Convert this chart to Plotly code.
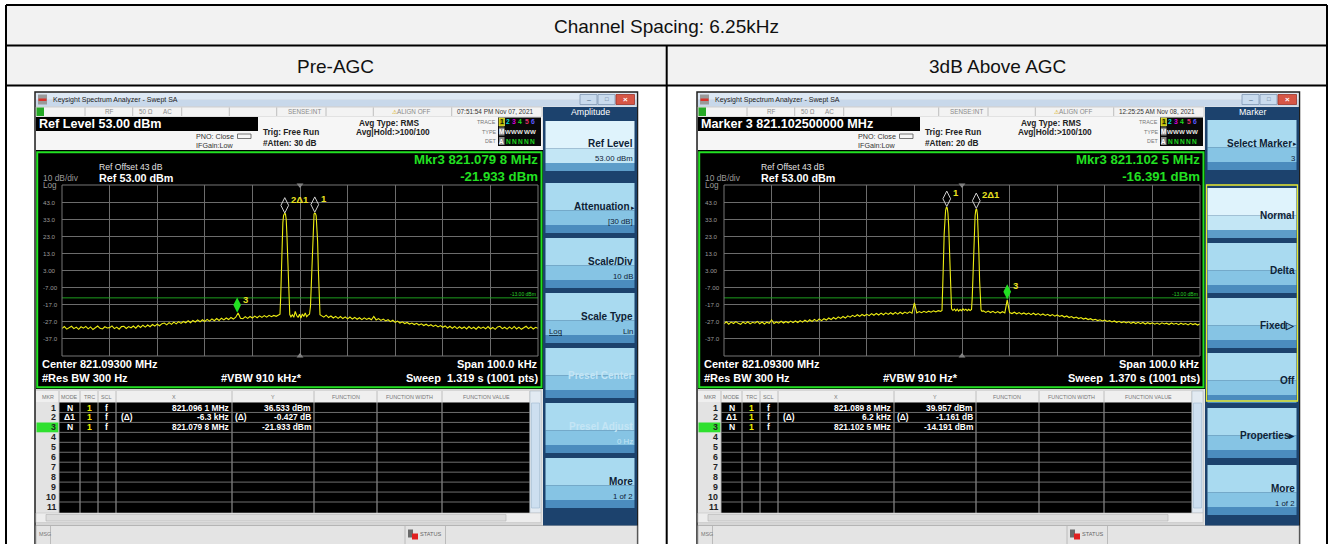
import numpy as np
import plotly.graph_objects as go

W, H = 1332, 544
FONT = "Liberation Sans, Arial, sans-serif"

# ------------------------------------------------------------------ data
TABLE_TITLE = "Channel Spacing: 6.25kHz"
COLUMN_TITLES = ["Pre-AGC", "3dB Above AGC"]

CENTER_MHZ = 821.093
SPAN_KHZ = 100.0
REF_LEVEL_DBM = 53.0
DB_PER_DIV = 10.0
DISPLAY_LINE_DBM = -13.0
Y_TICK_VALUES = [43, 33, 23, 13, 3, -7, -17, -27, -37]
Y_TICK_LABELS = ["43.0", "33.0", "23.0", "13.0", "3.00", "-7.00", "-17.0", "-27.0", "-37.0"]

# sweep grid outside the carriers (kHz from centre)
SWEEP_LO_KHZ = np.arange(-50.0, -4.49, 0.5)
SWEEP_HI_KHZ = np.arange(4.5, 50.01, 0.5)

# ---- Pre-AGC trace (dBm)
PRE_LO_DBM = [-30.9, -29.8, -31.3, -30.2, -29.6, -31.0, -30.1, -31.4, -29.9, -30.7,
              -29.7, -31.1, -30.0, -31.5, -30.3, -29.5, -30.8, -31.2, -29.9, -30.6,
              -30.4, -29.4, -31.0, -30.1, -31.3, -29.8, -29.6, -30.9, -29.8, -30.5,
              -29.5, -30.7, -29.2, -30.3, -29.0, -30.1, -28.9, -29.9, -28.6, -29.5,
              -28.4, -29.3, -28.1, -27.7, -28.8, -27.5, -28.5, -27.2, -28.2, -26.9,
              -27.9, -26.8, -27.6, -26.4, -27.5, -26.2, -27.1, -25.9, -27.0, -25.8,
              -26.8, -25.6, -26.6, -25.3, -26.4, -25.1, -26.2, -24.9, -25.9, -24.8,
              -25.7, -24.5, -25.4, -24.3, -21.9, -24.9, -25.2, -24.0, -25.0, -23.9,
              -24.8, -23.7, -24.6, -23.5, -24.4, -23.4, -24.3, -23.2, -24.0, -23.3,
              -23.8, -23.0]
PRE_PEAK_KHZ = [-4.2, -4.05, -3.9, -3.75, -3.6, -3.45, -3.3, -3.2, -3.05, -2.9,
                -2.75, -2.6, -2.45, -2.3, -2.15, -1.9, -1.6, -1.3, -1.0, -0.7,
                -0.4, -0.1, 0.2, 0.5, 0.8, 1.1, 1.4, 1.7, 2.0, 2.2,
                2.35, 2.5, 2.65, 2.8, 2.95, 3.1, 3.25, 3.4, 3.55, 3.7,
                3.85, 4.0, 4.2]
PRE_PEAK_DBM = [-22.6, -12.0, 4.0, 21.0, 31.0, 35.2, 36.4, 36.5, 36.0, 33.0,
                24.0, 9.0, -7.0, -18.5, -22.8, -24.1, -22.9, -24.4, -20.9, -23.3,
                -24.5, -22.6, -24.8, -22.4, -23.9, -21.8, -24.0, -23.1, -22.6, -18.0,
                -6.0, 9.0, 24.0, 33.0, 36.0, 36.5, 36.3, 35.0, 30.0, 20.0,
                4.0, -12.0, -22.8]
PRE_HI_DBM = [-23.4, -24.3, -23.1, -24.5, -23.6, -24.8, -23.8, -25.0, -23.9, -25.1,
              -24.1, -25.3, -24.2, -25.4, -24.4, -25.5, -24.6, -25.7, -24.7, -25.6,
              -24.9, -25.8, -23.9, -25.9, -25.1, -26.2, -25.4, -26.5, -25.8, -26.9,
              -26.1, -27.3, -26.6, -27.7, -27.0, -28.0, -27.4, -28.3, -27.7, -28.6,
              -27.9, -28.9, -28.2, -29.2, -28.4, -29.4, -28.7, -29.7, -28.9, -30.0,
              -29.2, -30.2, -29.4, -30.6, -29.6, -30.8, -29.7, -31.0, -29.9, -30.9,
              -30.0, -31.2, -29.8, -31.0, -30.2, -31.3, -29.9, -30.9, -30.1, -31.1,
              -29.8, -31.2, -30.3, -31.4, -30.0, -29.6, -31.0, -30.2, -31.3, -30.0,
              -31.1, -29.7, -31.2, -30.1, -31.4, -30.3, -29.6, -31.0, -30.0, -31.2,
              -30.2, -30.8]

# ---- 3dB above AGC trace (dBm)
AGC_LO_DBM = [-28.2, -27.0, -28.4, -27.2, -28.0, -26.9, -27.9, -28.5, -27.1, -28.1,
              -27.0, -28.2, -27.3, -27.8, -26.8, -28.1, -27.1, -28.3, -27.2, -27.9,
              -25.9, -28.0, -27.1, -27.8, -26.7, -27.7, -26.8, -27.6, -26.6, -27.5,
              -26.5, -27.4, -26.3, -27.2, -26.0, -27.0, -25.8, -26.8, -25.6, -26.6,
              -25.4, -26.3, -25.2, -26.0, -24.8, -25.7, -24.5, -25.4, -24.1, -25.0,
              -23.9, -24.8, -23.5, -24.3, -23.2, -24.0, -22.9, -23.8, -22.7, -23.5,
              -22.6, -23.4, -22.2, -23.2, -22.1, -23.0, -21.9, -22.9, -21.8, -22.7,
              -21.7, -22.6, -21.5, -22.5, -21.4, -22.3, -21.3, -22.1, -21.2, -22.0,
              -16.0, -21.8, -21.0, -21.7, -20.9, -21.5, -20.8, -21.4, -20.6, -21.2,
              -20.5, -20.9]
AGC_PEAK_KHZ = [-4.2, -4.05, -3.9, -3.75, -3.6, -3.45, -3.3, -3.2, -3.1, -2.95,
                -2.8, -2.65, -2.5, -2.35, -2.2, -1.9, -1.6, -1.3, -1.0, -0.7,
                -0.4, -0.1, 0.2, 0.5, 0.8, 1.1, 1.4, 1.7, 2.0, 2.15,
                2.3, 2.45, 2.6, 2.75, 2.9, 3.0, 3.1, 3.25, 3.4, 3.55,
                3.7, 3.85, 4.0, 4.2]
AGC_PEAK_DBM = [-20.3, -10.0, 8.0, 24.0, 33.0, 38.0, 39.8, 40.0, 39.6, 36.5,
                29.0, 16.0, 0.0, -13.0, -19.4, -20.4, -19.5, -20.6, -19.6, -20.8,
                -19.8, -20.5, -19.4, -20.3, -19.6, -20.5, -19.7, -20.4, -19.8, -13.0,
                1.0, 16.0, 28.0, 35.0, 38.4, 38.8, 38.6, 35.5, 27.0, 13.0,
                -3.0, -15.0, -20.0, -20.9]
AGC_HI_DBM = [-20.6, -21.5, -20.7, -21.6, -20.9, -21.8, -21.0, -21.9, -21.1, -21.8,
              -14.2, -21.6, -22.2, -21.4, -22.3, -21.6, -22.5, -21.8, -22.6, -21.9,
              -22.8, -22.0, -22.9, -22.2, -23.1, -22.4, -23.3, -22.6, -23.5, -22.8,
              -23.7, -23.0, -23.9, -23.3, -24.2, -23.6, -24.5, -23.9, -24.8, -24.2,
              -25.1, -24.5, -25.4, -24.9, -25.7, -25.2, -26.0, -25.5, -26.3, -25.8,
              -26.5, -26.0, -26.8, -26.3, -27.1, -26.5, -27.3, -26.7, -27.5, -26.9,
              -27.7, -27.0, -27.9, -27.2, -28.0, -27.3, -28.1, -27.4, -28.3, -27.5,
              -28.2, -27.6, -28.4, -27.7, -28.5, -27.6, -28.3, -27.8, -28.6, -27.7,
              -28.4, -27.9, -28.7, -27.8, -28.5, -28.0, -28.8, -27.9, -28.6, -28.1,
              -28.9, -28.2]

# ---- markers
MKR_LABELS = ["1", "2\u03941", "3"]
PRE_MKR_MHZ = [821.0961, 821.0898, 821.0798]
PRE_MKR_DBM = [36.533, 36.106, -21.933]
AGC_MKR_MHZ = [821.0898, 821.0960, 821.1025]
AGC_MKR_DBM = [39.957, 38.796, -14.191]

PRE_TABLE = [["1", "N", "1", "f", "", "821.096 1 MHz", "", "36.533 dBm"],
             ["2", "\u03941", "1", "f", "(\u0394)", "-6.3 kHz", "(\u0394)", "-0.427 dB"],
             ["3", "N", "1", "f", "", "821.079 8 MHz", "", "-21.933 dBm"]]
AGC_TABLE = [["1", "N", "1", "f", "", "821.089 8 MHz", "", "39.957 dBm"],
             ["2", "\u03941", "1", "f", "(\u0394)", "6.2 kHz", "(\u0394)", "-1.161 dB"],
             ["3", "N", "1", "f", "", "821.102 5 MHz", "", "-14.191 dBm"]]

SCREENS = [
    dict(dx=0, time="07:51:54 PM Nov 07, 2021", banner="Ref Level 53.00 dBm",
         atten="#Atten: 30 dB", mkr_line1="Mkr3 821.079 8 MHz", mkr_line2="-21.933 dBm",
         vbw="#VBW 910 kHz*", sweep="Sweep\u00a0\u00a01.319 s (1001 pts)",
         trig_mark_khz=-30.0, lo=PRE_LO_DBM, pk_khz=PRE_PEAK_KHZ, pk_dbm=PRE_PEAK_DBM, hi=PRE_HI_DBM,
         mkr_mhz=PRE_MKR_MHZ, mkr_dbm=PRE_MKR_DBM, table=PRE_TABLE,
         panel_title="Amplitude",
         buttons=[("Ref Level", "53.00 dBm", "sel", False),
                  ("Attenuation", "[30 dB]", "", True),
                  ("Scale/Div", "10 dB", "", False),
                  ("Scale Type", "Lin", "log", False),
                  ("Presel Center", None, "gray", False),
                  ("Presel Adjust", "0 Hz", "gray", False),
                  ("More", "1 of 2", "", False)],
         tops=[121, 183, 238, 293, 348, 403, 458], group=None),
    dict(dx=662, time="12:25:25 AM Nov 08, 2021", banner="Marker 3 821.102500000 MHz",
         atten="#Atten: 20 dB", mkr_line1="Mkr3 821.102 5 MHz", mkr_line2="-16.391 dBm",
         vbw="#VBW 910 Hz*", sweep="Sweep\u00a0\u00a01.370 s (1001 pts)",
         trig_mark_khz=-40.0, lo=AGC_LO_DBM, pk_khz=AGC_PEAK_KHZ, pk_dbm=AGC_PEAK_DBM, hi=AGC_HI_DBM,
         mkr_mhz=AGC_MKR_MHZ, mkr_dbm=AGC_MKR_DBM, table=AGC_TABLE,
         panel_title="Marker",
         buttons=[("Select Marker", "3", "", True),
                  ("Normal", None, "sel", False),
                  ("Delta", None, "", False),
                  ("Fixed\u25b7", None, "", False),
                  ("Off", None, "", False),
                  ("Properties\u25b8", None, "", False),
                  ("More", "1 of 2", "", False)],
         tops=[120, 188, 243, 298, 353, 408, 465], group=(185, 401)),
]

# ------------------------------------------------------------------ helpers
shapes, annotations = [], []


def rect(x0, y0, x1, y1, fill=None, line=None, lw=0, layer="below"):
    shapes.append(dict(type="rect", xref="paper", yref="paper",
                       x0=x0 / W, x1=x1 / W, y0=1 - y1 / H, y1=1 - y0 / H,
                       fillcolor=fill or "rgba(0,0,0,0)",
                       line=dict(color=line or "rgba(0,0,0,0)", width=lw), layer=layer))


def seg(x0, y0, x1, y1, color, lw=1, layer="below"):
    shapes.append(dict(type="line", xref="paper", yref="paper",
                       x0=x0 / W, x1=x1 / W, y0=1 - y0 / H, y1=1 - y1 / H,
                       line=dict(color=color, width=lw), layer=layer))


def text(x, y, s, size, color, bold=False, anchor="left", align="left"):
    annotations.append(dict(x=x / W, y=1 - y / H, xref="paper", yref="paper",
                            text=f"<b>{s}</b>" if bold else s, showarrow=False,
                            xanchor=anchor, yanchor="middle", borderpad=0, align=align,
                            font=dict(size=size, color=color, family=FONT)))


# ------------------------------------------------------------------ outer table
rect(6, 5, 1327, 45.5, fill="#f2f2f2")
rect(6, 45.5, 1327, 85.5, fill="#f2f2f2")
seg(6, 5, 1327, 5, "#000", 2)
seg(6, 45.5, 1327, 45.5, "#000", 2)
seg(6, 85.5, 1327, 85.5, "#000", 2)
seg(6, 5, 6, 545, "#000", 2)
seg(1327, 5, 1327, 545, "#000", 2)
seg(666.7, 45.5, 666.7, 545, "#000", 2)
text(666.5, 26, TABLE_TITLE, 19, "#111", anchor="center")
text(336, 66, COLUMN_TITLES[0], 19, "#111", anchor="center")
text(997, 66, COLUMN_TITLES[1], 19, "#111", anchor="center")

fig = go.Figure()
layout_axes = {}

TABLE_COLS = [59, 80, 98, 116, 232, 314, 377, 442, 530]
TABLE_HEAD = [("MKR", 47.5), ("MODE", 69.5), ("TRC", 89), ("SCL", 107), ("X", 174),
              ("Y", 273), ("FUNCTION", 345.5), ("FUNCTION WIDTH", 409.5), ("FUNCTION VALUE", 486)]


def draw_screen(k, c):
    dx = c["dx"]

    def X(x):
        return x + dx

    # window
    rect(X(35), 92, X(637.5), 546, fill="#e6e6e6", line="#1e1e1e", lw=1.5)
    rect(X(36), 93, X(636.5), 99.5, fill="#dde8f4")
    rect(X(36), 99.5, X(636.5), 106.5, fill="#c8d8ea")
    rect(X(38), 94.5, X(47), 104.5, fill="#9a9a9a")
    rect(X(38.5), 98.5, X(46.5), 101, fill="#d8322a")
    text(X(52), 99.8, "Keysight Spectrum Analyzer - Swept SA", 7, "#1b1b1b")
    rect(X(580), 94.5, X(597), 104.5, fill="#c9dbee", line="#8098b4", lw=0.8)
    rect(X(598), 94.5, X(615), 104.5, fill="#c9dbee", line="#8098b4", lw=0.8)
    rect(X(616), 94.5, X(634.5), 104.5, fill="#d65646", line="#9b3329", lw=0.8)
    text(X(588.5), 99.5, "\u2013", 7, "#4d6680", anchor="center")
    text(X(606.5), 99.5, "\u25a1", 6, "#4d6680", anchor="center")
    text(X(625.2), 99.5, "\u00d7", 8, "#ffffff", bold=True, anchor="center")

    # status row
    rect(X(36), 107, X(542), 116.5, fill="#f3f3f3", line="#b8b8b8", lw=0.6)
    rect(X(36.5), 107.5, X(44), 116, fill="#25a825")
    for xv in [85, 132.7, 181.7, 229.3, 276.7, 326, 373.3, 451.7]:
        seg(X(xv), 107.5, X(xv), 116, "#b0b0b0", 0.8)
    text(X(109), 112, "RF", 6.3, "#8a8a8a", anchor="center")
    text(X(145.5), 112, "50 \u03a9", 6.3, "#8a8a8a", anchor="center")
    text(X(167), 112, "AC", 6.3, "#8a8a8a", anchor="center")
    text(X(304), 112, "SENSE:INT", 6.3, "#8a8a8a", anchor="center")
    text(X(411), 112, "<span style='color:#d4a800'>\u26a0</span>ALIGN OFF", 6.3, "#8a8a8a", anchor="center")
    text(X(495), 112, c["time"], 6.4, "#333333", anchor="center")

    # header area
    rect(X(36), 116.5, X(542), 150, fill="#f6f6f6")
    rect(X(36), 117, X(258), 131, fill="#000000")
    text(X(38), 124.2, c["banner"], 12.6, "#ffffff", bold=True)
    text(X(195), 136.5, "PNO: Close", 7.2, "#333333")
    rect(X(237.5), 134, X(251), 138.5, line="#555555", lw=0.8)
    text(X(195), 145.5, "IFGain:Low", 7.2, "#333333")
    text(X(262), 132.5, "Trig: Free Run", 8.3, "#222222", bold=True)
    text(X(262), 142.5, c["atten"], 8.3, "#222222", bold=True)
    text(X(358), 122.5, "Avg Type: RMS", 8.3, "#222222", bold=True)
    text(X(355), 132.2, "Avg|Hold:&gt;100/100", 8.3, "#222222", bold=True)
    text(X(497), 121.5, "TRACE", 5.4, "#777777", anchor="right")
    text(X(497), 131.5, "TYPE", 5.4, "#777777", anchor="right")
    text(X(497), 141.2, "DET", 5.4, "#777777", anchor="right")
    rect(X(498), 117.5, X(541), 146, fill="#080808")
    rect(X(499), 118, X(504.5), 126, fill="#b8b800", line="#ffff66", lw=0.6)
    rect(X(499), 127.5, X(504.5), 135.5, fill="#8a8a8a")
    rect(X(499), 137, X(504.5), 145, fill="#8a8a8a")
    for i, (d, col) in enumerate(zip("123456", ["#111111", "#00d8d8", "#d800d8", "#1fd81f", "#e0306a", "#5a5aff"])):
        text(X(501.8 + 6.2 * i), 122, d, 6.8, col, bold=True, anchor="center")
    text(X(501.8), 131.5, "M", 6.4, "#ffffff", bold=True, anchor="center")
    text(X(501.8), 141, "A", 6.4, "#ffffff", bold=True, anchor="center")
    for i in range(5):
        text(X(508 + 6.2 * i), 131.5, "W", 6.2, "#e8e8e8", bold=True, anchor="center")
        text(X(508 + 6.2 * i), 141, "N", 6.6, "#1fd81f", bold=True, anchor="center")

    # graticule screen
    rect(X(36), 150, X(543), 389, fill="#000000")
    rect(X(37.2), 152.2, X(541.5), 387.3, line="#22e022", lw=2)
    text(X(98), 167, "Ref Offset 43 dB", 8.6, "#e0e0e0")
    text(X(98), 177.5, "Ref 53.00 dBm", 10.8, "#ffffff", bold=True)
    text(X(41.5), 178, "10 dB/div", 8.4, "#9a9a9a")
    text(X(41.5), 185.5, "Log", 8.2, "#9a9a9a")
    text(X(538.5), 168.3, c["mkr_line1"] + "<br>" + c["mkr_line2"], 13.2, "#22e022",
         bold=True, anchor="right", align="right")
    text(X(41), 363.5, "Center 821.09300 MHz", 11, "#ffffff", bold=True)
    text(X(538.5), 363.5, "Span 100.0 kHz", 11, "#ffffff", bold=True, anchor="right")
    text(X(41), 377.5, "#Res BW 300 Hz", 11, "#ffffff", bold=True)
    text(X(220), 377.5, c["vbw"], 11, "#ffffff", bold=True)
    text(X(538.5), 377.5, c["sweep"], 11, "#ffffff", bold=True, anchor="right")
    rect(X(62), 185, X(538), 356, line="#777777", lw=1, layer="above")

    # marker table
    rect(X(36), 389, X(542), 526, fill="#d6d6d6")
    rect(X(36), 391, X(530), 402.5, fill="#efefef")
    rect(X(36), 402.5, X(59), 513, fill="#e3e3e3")
    rect(X(59), 402.5, X(530), 513, fill="#000000")
    rect(X(36.5), 422.5, X(58.5), 432.3, fill="#2fe02f")
    for xv in TABLE_COLS:
        seg(X(xv), 391, X(xv), 513, "#b9b9b9", 0.9)
    for r in range(1, 11):
        yv = 402.5 + 9.95 * r
        seg(X(59), yv, X(530), yv, "#7a7a7a", 0.9)
    for name, xc in TABLE_HEAD:
        text(X(xc), 397, name, 5.4, "#777777", anchor="center")
    for r in range(11):
        text(X(56.5), 407.5 + 9.95 * r, str(r + 1), 8.8, "#222222", bold=True, anchor="right")
    for r, row in enumerate(c["table"]):
        yv = 407.5 + 9.95 * r
        text(X(69.5), yv, row[1], 8.6, "#ffffff", bold=True, anchor="center")
        text(X(89), yv, row[2], 8.6, "#f0f000", bold=True, anchor="center")
        text(X(107), yv, row[3], 8.6, "#ffffff", bold=True, anchor="center")
        if row[4]:
            text(X(120), yv, row[4], 8.4, "#ffffff", bold=True)
        text(X(230), yv, row[5], 8.4, "#ffffff", bold=True, anchor="right")
        if row[6]:
            text(X(234), yv, row[6], 8.4, "#ffffff", bold=True)
        text(X(312), yv, row[7], 8.4, "#ffffff", bold=True, anchor="right")
    rect(X(530), 391, X(541), 513, fill="#e2eaf2", line="#b0bcc8", lw=0.6)
    rect(X(531.5), 403, X(539.5), 508, fill="#cddff0", line="#9fb8d0", lw=0.6)
    rect(X(36), 513, X(541), 522.5, fill="#ededed", line="#c4c4c4", lw=0.6)
    rect(X(46), 514.5, X(506), 521, fill="#dcdcdc", line="#b4b4b4", lw=0.6)
    rect(X(36), 525.5, X(637), 546, fill="#e4e4e4", line="#a9a9a9", lw=0.8)
    seg(X(50.5), 526, X(50.5), 544, "#b0b0b0", 0.8)
    seg(X(405), 526, X(405), 544, "#b0b0b0", 0.8)
    seg(X(445.5), 526, X(445.5), 544, "#b0b0b0", 0.8)
    text(X(38), 534, "MSG", 5.4, "#777777")
    text(X(419), 534, "STATUS", 5.6, "#666666")
    rect(X(408), 529.5, X(413), 537.5, fill="#6a6a6a")
    rect(X(412), 533.5, X(418), 539.5, fill="#e02020")

    # soft-key panel
    rect(X(543), 107, X(637), 525.5, fill="#1c426d")
    text(X(590), 111.5, c["panel_title"], 8.8, "#ffffff", anchor="center")
    for (title, sub, style, arrow), t in zip(c["buttons"], c["tops"]):
        h = 50
        if style == "sel":
            cols = ["#dff3fc", "#c3e6f5", "#5d9dc9"]
        else:
            cols = ["#a9daf0", "#86c4e4", "#4b8cbe"]
        rect(X(545.5), t, X(634.5), t + h * 0.55, fill=cols[0])
        rect(X(545.5), t + h * 0.55, X(634.5), t + h * 0.84, fill=cols[1])
        rect(X(545.5), t + h * 0.84, X(634.5), t + h, fill=cols[2])
        tcol = "#c4e5f5" if style == "gray" else "#0e2236"
        right = 630.5 if arrow else 633.5
        if sub is None:
            text(X(right), t + 27, title, 10, tcol, bold=True, anchor="right")
        else:
            text(X(right), t + 23, title, 10, tcol, bold=True, anchor="right")
            text(X(633.5), t + 38, sub, 7.8, tcol, anchor="right")
        if arrow:
            text(X(635.5), t + 24, "\u25b8", 7, "#0e2236", anchor="right")
        if style == "log":
            text(X(547.5), t + 38, "<u>Log</u>", 7.8, "#0e2236")
    if c["group"] is not None:
        g0, g1 = c["group"]
        rect(X(544.5), g0, X(635.5), g1, line="#e8e830", lw=1.3, layer="above")

    # spectrum axes
    xa = "x" if k == 1 else f"x{k}"
    ya = "y" if k == 1 else f"y{k}"
    half = SPAN_KHZ / 2000.0
    grid_x = list(CENTER_MHZ + np.arange(-50, 51, 10) / 1000.0)
    bottom = REF_LEVEL_DBM - 10 * DB_PER_DIV
    grid_y = [bottom + DB_PER_DIV * i for i in range(11)]
    common = dict(showticklabels=False, showgrid=True, gridcolor="#6c6c6c", gridwidth=1,
                  zeroline=False, showline=False, ticks="", fixedrange=True)
    layout_axes["xaxis" if k == 1 else f"xaxis{k}"] = dict(
        domain=[(62 + dx) / W, (538 + dx) / W], range=[CENTER_MHZ - half, CENTER_MHZ + half],
        tickvals=grid_x, anchor=ya, **common)
    layout_axes["yaxis" if k == 1 else f"yaxis{k}"] = dict(
        domain=[1 - 356 / H, 1 - 185 / H], range=[bottom, REF_LEVEL_DBM],
        tickvals=grid_y, anchor=xa, **common)

    for v, lab in zip(Y_TICK_VALUES, Y_TICK_LABELS):
        annotations.append(dict(x=(42 + dx) / W, xref="paper", y=v, yref=ya, text=lab,
                                showarrow=False, xanchor="left", yanchor="middle", borderpad=0,
                                font=dict(size=6.2, color="#9a9a9a", family=FONT)))
    annotations.append(dict(x=(536.5 + dx) / W, xref="paper", y=DISPLAY_LINE_DBM, yref=ya,
                            text="-13.00 dBm", showarrow=False, xanchor="right", yanchor="bottom",
                            borderpad=0, yshift=0, font=dict(size=5, color="#2ad02a", family=FONT)))

    # display line, trace
    fig.add_trace(go.Scatter(x=[CENTER_MHZ - half, CENTER_MHZ + half],
                             y=[DISPLAY_LINE_DBM, DISPLAY_LINE_DBM], xaxis=xa, yaxis=ya,
                             mode="lines", line=dict(color="#1e9e1e", width=1),
                             hoverinfo="skip", showlegend=False))
    khz = np.concatenate([SWEEP_LO_KHZ, np.array(c["pk_khz"]), SWEEP_HI_KHZ])
    dbm = np.concatenate([np.array(c["lo"]), np.array(c["pk_dbm"]), np.array(c["hi"])])
    fig.add_trace(go.Scatter(x=CENTER_MHZ + khz / 1000.0, y=dbm, xaxis=xa, yaxis=ya,
                             mode="lines", line=dict(color="#eded12", width=1.1),
                             hoverinfo="skip", showlegend=False))
    # centre triangles and trigger mark
    fig.add_trace(go.Scatter(x=[CENTER_MHZ, CENTER_MHZ], y=[REF_LEVEL_DBM, bottom],
                             xaxis=xa, yaxis=ya, mode="markers", cliponaxis=False,
                             marker=dict(symbol=["triangle-down", "triangle-up"], size=6,
                                         color="#8c8c8c"),
                             hoverinfo="skip", showlegend=False))
    fig.add_trace(go.Scatter(x=[CENTER_MHZ + c["trig_mark_khz"] / 1000.0], y=[bottom - 1.5],
                             xaxis=xa, yaxis=ya, mode="markers", cliponaxis=False,
                             marker=dict(symbol="triangle-up-open", size=5, color="#27d027",
                                         line=dict(width=1)),
                             hoverinfo="skip", showlegend=False))
    # markers (diamond drawn just above the marked point)
    m_mhz, m_dbm = c["mkr_mhz"], c["mkr_dbm"]
    lift = [5.0, 5.0, 4.7]
    fig.add_trace(go.Scatter(x=m_mhz[:2], y=[m_dbm[0] + lift[0], m_dbm[1] + lift[1]],
                             xaxis=xa, yaxis=ya, mode="markers", cliponaxis=False,
                             marker=dict(symbol="diamond-tall-open", size=11, color="#d0d0d0",
                                         line=dict(width=1, color="#d0d0d0")),
                             hoverinfo="skip", showlegend=False))
    fig.add_trace(go.Scatter(x=[m_mhz[2]], y=[m_dbm[2] + lift[2]],
                             xaxis=xa, yaxis=ya, mode="markers", cliponaxis=False,
                             marker=dict(symbol="diamond-tall", size=11, color="#22e022"),
                             hoverinfo="skip", showlegend=False))
    for i in range(3):
        annotations.append(dict(x=m_mhz[i], y=m_dbm[i] + lift[i], xref=xa, yref=ya,
                                text=f"<b>{MKR_LABELS[i]}</b>", showarrow=False,
                                xanchor="left", yanchor="middle", xshift=5, yshift=6, borderpad=0,
                                font=dict(size=9.5, color="#e8e020", family=FONT)))


for k, scr in enumerate(SCREENS, start=1):
    draw_screen(k, scr)

fig.update_layout(
    width=W, height=H, autosize=False,
    margin=dict(l=0, r=0, t=0, b=0, pad=0),
    paper_bgcolor="#ffffff", plot_bgcolor="rgba(0,0,0,0)",
    showlegend=False, shapes=shapes, annotations=annotations,
    font=dict(family=FONT),
    **layout_axes,
)
fig.write_html("out.html", config={"displayModeBar": False, "staticPlot": True},
               post_script="document.body.style.margin='0px';document.body.style.overflow='hidden';")
